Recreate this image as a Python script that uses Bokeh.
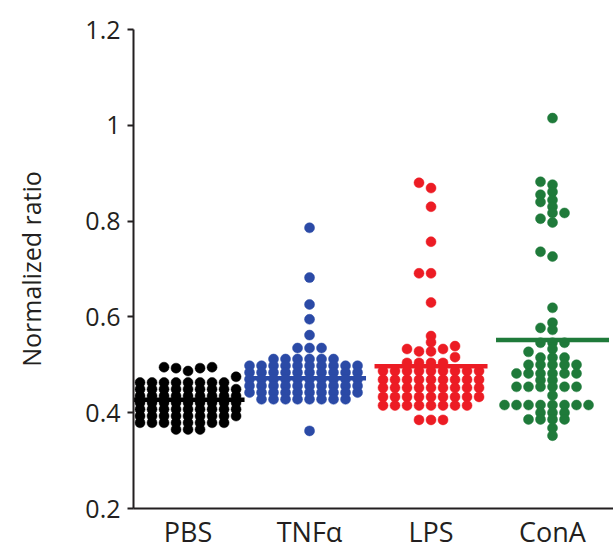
from bokeh.plotting import figure
from bokeh.models import Range1d, FixedTicker, CustomJSTickFormatter
from bokeh.embed import file_html
from bokeh.resources import INLINE

# ---- data ----
groups = ["PBS", "TNF\u03b1", "LPS", "ConA"]
colors = ["#000000", "#2b4aa6", "#ec1c24", "#1f7a3a"]

pbs = [0.495, 0.495, 0.493, 0.493, 0.487, 0.475,
       0.463, 0.463, 0.463, 0.463, 0.463, 0.463, 0.463, 0.463,
       0.449, 0.449, 0.449, 0.449, 0.449, 0.449, 0.449, 0.449, 0.449,
       0.435, 0.435, 0.435, 0.435, 0.435, 0.435, 0.435, 0.435, 0.435,
       0.421, 0.421, 0.421, 0.421, 0.421, 0.421, 0.421, 0.421, 0.421,
       0.407, 0.407, 0.407, 0.407, 0.407, 0.407, 0.407, 0.407, 0.407,
       0.393, 0.393, 0.393, 0.393, 0.393, 0.393, 0.393, 0.393, 0.393,
       0.379, 0.379, 0.379, 0.379, 0.379, 0.379, 0.379, 0.379,
       0.365, 0.365, 0.365]

tnf = [0.786, 0.682, 0.626, 0.595, 0.562, 0.535, 0.535, 0.535,
       0.512, 0.512, 0.512, 0.512, 0.512, 0.512,
       0.498, 0.498, 0.498, 0.498, 0.498, 0.498, 0.498, 0.498, 0.498, 0.498,
       0.484, 0.484, 0.484, 0.484, 0.484, 0.484, 0.484, 0.484, 0.484, 0.484,
       0.470, 0.470, 0.470, 0.470, 0.470, 0.470, 0.470, 0.470, 0.470, 0.470,
       0.456, 0.456, 0.456, 0.456, 0.456, 0.456, 0.456, 0.456, 0.456, 0.456,
       0.442, 0.442, 0.442, 0.442, 0.442, 0.442, 0.442, 0.442, 0.442, 0.442,
       0.428, 0.428, 0.428, 0.428, 0.428, 0.428, 0.428, 0.428,
       0.362]

lps = [0.880, 0.869, 0.830, 0.757, 0.691, 0.691, 0.630, 0.560, 0.547,
       0.539, 0.533, 0.533, 0.528, 0.528, 0.516,
       0.504, 0.504, 0.504, 0.504,
       0.487, 0.487, 0.487, 0.487, 0.487, 0.487, 0.487, 0.487, 0.487,
       0.469, 0.469, 0.469, 0.469, 0.469, 0.469, 0.469, 0.469, 0.469,
       0.452, 0.452, 0.452, 0.452, 0.452, 0.452, 0.452, 0.452, 0.452,
       0.433, 0.433, 0.433, 0.433, 0.433, 0.433, 0.433, 0.433, 0.433,
       0.415, 0.415, 0.415, 0.415, 0.415, 0.415, 0.415, 0.415,
       0.385, 0.385, 0.385]

cona = [1.015, 0.882, 0.876, 0.861, 0.855, 0.844, 0.840, 0.830, 0.817, 0.817,
        0.805, 0.797, 0.736, 0.726, 0.619, 0.588, 0.577, 0.573,
        0.546, 0.546, 0.546, 0.533, 0.527, 0.515, 0.515, 0.515,
        0.500, 0.500, 0.500, 0.500, 0.500,
        0.482, 0.482, 0.482, 0.482, 0.482, 0.482,
        0.468, 0.468,
        0.454, 0.454, 0.454, 0.454, 0.454, 0.454,
        0.436,
        0.416, 0.416, 0.416, 0.416, 0.416, 0.416, 0.416, 0.416,
        0.400, 0.400, 0.400,
        0.386, 0.386, 0.386, 0.386,
        0.368, 0.352]

means = [0.427, 0.472, 0.497, 0.552]
y_ticks = [0.2, 0.4, 0.6, 0.8, 1.0, 1.2]

series = [pbs, tnf, lps, cona]


def swarm(vals, center, step, thr):
    """Place points in columns (Prism-like scatter): smallest free column offset."""
    order = sorted(range(len(vals)), key=lambda i: vals[i])
    placed = []
    xs = [0.0] * len(vals)
    for i in order:
        v = vals[i]
        near = {c for (pv, c) in placed if abs(pv - v) < thr}
        k = 0
        found = None
        while found is None:
            cands = [0] if k == 0 else [-k, k]
            for c in cands:
                if c not in near:
                    found = c
                    break
            k += 1
        placed.append((v, found))
        xs[i] = center + found * step
    return xs


FONT = "Open Sans"
TXT = "#231f20"

p = figure(width=613, height=552, output_backend="svg", toolbar_location=None,
           x_range=Range1d(0.551, 4.502), y_range=Range1d(0.2, 1.2),
           min_border_left=133, min_border_right=0, min_border_top=29,
           min_border_bottom=42)
p.outline_line_color = None
p.grid.visible = False
p.background_fill_color = "white"
p.border_fill_color = "white"

for gi, (vals, col) in enumerate(zip(series, colors)):
    xs = swarm(vals, gi + 1, 0.0988, 0.0125)
    p.scatter(x=xs, y=vals, size=10, fill_color=col, line_color=col, line_width=0.5)

for gi, (m, col) in enumerate(zip(means, colors)):
    p.segment(x0=[gi + 1 - 0.465], y0=[m], x1=[gi + 1 + 0.465], y1=[m],
              line_color=col, line_width=4.5)

# y axis
ya = p.yaxis[0]
ya.ticker = FixedTicker(ticks=y_ticks)
ya.formatter = CustomJSTickFormatter(code="return tick.toFixed(1).replace(/\\.0$/, '');")
ya.axis_label = "Normalized ratio"
ya.axis_label_text_font = FONT
ya.axis_label_text_font_size = "25px"
ya.axis_label_text_font_style = "normal"
ya.axis_label_text_color = TXT
ya.axis_label_standoff = 34
ya.major_label_text_font = FONT
ya.major_label_text_font_size = "25px"
ya.major_label_text_color = TXT
ya.major_label_standoff = 7
ya.major_tick_in = 0
ya.major_tick_out = 6
ya.major_tick_line_width = 2
ya.major_tick_line_color = TXT
ya.minor_tick_line_color = None
ya.axis_line_width = 2
ya.axis_line_color = TXT

# x axis
xa = p.xaxis[0]
xa.ticker = FixedTicker(ticks=[1, 2, 3, 4])
xa.formatter = CustomJSTickFormatter(
    args=dict(labels=groups),
    code="const i = Math.round(tick) - 1; return (i >= 0 && i < labels.length) ? labels[i] : '';")
xa.major_label_text_font = FONT
xa.major_label_text_font_size = "27px"
xa.major_label_text_color = TXT
xa.major_label_standoff = 4
xa.major_tick_in = 0
xa.major_tick_out = 0
xa.minor_tick_line_color = None
xa.axis_line_width = 2
xa.axis_line_color = TXT

open("out.html", "w").write(file_html(p, INLINE))
